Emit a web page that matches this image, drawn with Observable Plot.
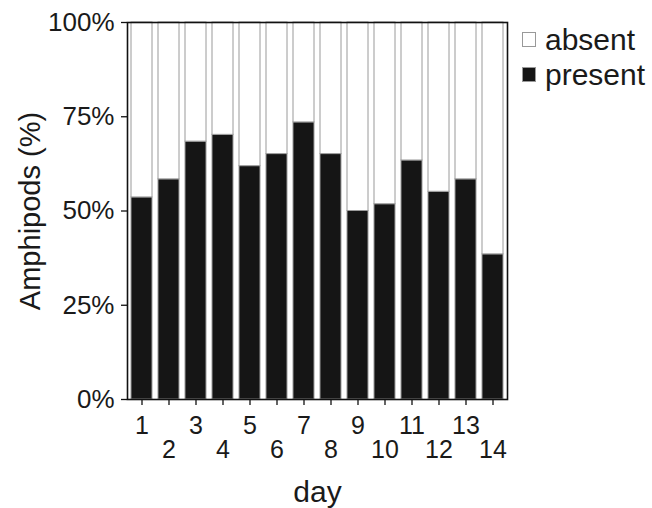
<!DOCTYPE html>
<html>
<head>
<meta charset="utf-8">
<script src="https://cdn.jsdelivr.net/npm/d3@7"></script>
<script src="https://cdn.jsdelivr.net/npm/@observablehq/plot@0.6"></script>
<style>
  html, body { margin: 0; padding: 0; background: #fff; }
  #wrap { position: relative; width: 652px; height: 508px; font-family: "Liberation Sans", Arial, sans-serif; }
  .leg { position: absolute; left: 522px; font-size: 30px; color: #1a1a1a; line-height: 35px; display: flex; align-items: center; }
  .sw { width: 14px; height: 15px; border: 1px solid #999; margin-right: 9px; box-sizing: border-box; }
</style>
</head>
<body>
<div id="wrap"></div>
<script>
const days = [1,2,3,4,5,6,7,8,9,10,11,12,13,14];
const present = [53.6, 58.4, 68.4, 70.2, 61.9, 65.1, 73.5, 65.1, 50.0, 51.8, 63.4, 55.1, 58.4, 38.5];
const statuses = ["present", "absent"];
const yTicks = [0, 25, 50, 75, 100];
const yLabel = "Amphipods (%)";
const xLabel = "day";

const rows = [];
days.forEach((d, i) => {
  rows.push({day: d, status: "present", value: present[i]});
  rows.push({day: d, status: "absent", value: 100 - present[i]});
});

const chart = Plot.plot({
  width: 652,
  height: 508,
  marginLeft: 127,
  marginRight: 145,
  marginTop: 22,
  marginBottom: 109,
  style: {fontFamily: "Liberation Sans, Arial, sans-serif", background: "#fff", color: "#1a1a1a"},
  x: {type: "band", domain: days, paddingInner: 0.22, paddingOuter: 0.14},
  y: {domain: [0, 100]},
  color: {domain: statuses, range: ["#151515", "#ffffff"]},
  marks: [
    Plot.barY(rows, Plot.stackY({x: "day", y: "value", fill: "status", order: statuses, stroke: "#9a9a9a", strokeWidth: 1, inset: 0})),
    Plot.frame({stroke: "#111", strokeWidth: 1.6}),
    Plot.axisY({ticks: yTicks, tickFormat: d => d + "%", tickSize: 6, tickPadding: 7, fontSize: 26, label: null, stroke: "#111", strokeWidth: 1.3}),
    Plot.axisX({ticks: days, tickFormat: d => d % 2 ? String(d) : "", tickSize: 6, tickPadding: 11, fontSize: 25, label: null, stroke: "#111", strokeWidth: 1.3}),
    Plot.axisX({ticks: days.filter(d => d % 2 === 0), tickSize: 0, tickPadding: 41, fontSize: 25, label: null}),
    Plot.text([yLabel], {frameAnchor: "left", dx: -97, rotate: -90, fontSize: 29, textAnchor: "middle", fill: "#1a1a1a", text: d => d}),
    Plot.text([xLabel], {frameAnchor: "bottom", dy: 93, fontSize: 30, textAnchor: "middle", fill: "#1a1a1a", text: d => d, lineAnchor: "middle"})
  ]
});

const wrap = document.getElementById("wrap");
wrap.appendChild(chart);
const legendItems = [{label: "absent", color: "#ffffff"}, {label: "present", color: "#151515"}];
legendItems.forEach((it, i) => {
  const div = document.createElement("div");
  div.className = "leg";
  div.style.top = (22 + i * 35) + "px";
  const sw = document.createElement("span");
  sw.className = "sw";
  sw.style.background = it.color;
  div.appendChild(sw);
  div.appendChild(document.createTextNode(it.label));
  wrap.appendChild(div);
});
</script>
</body>
</html>
